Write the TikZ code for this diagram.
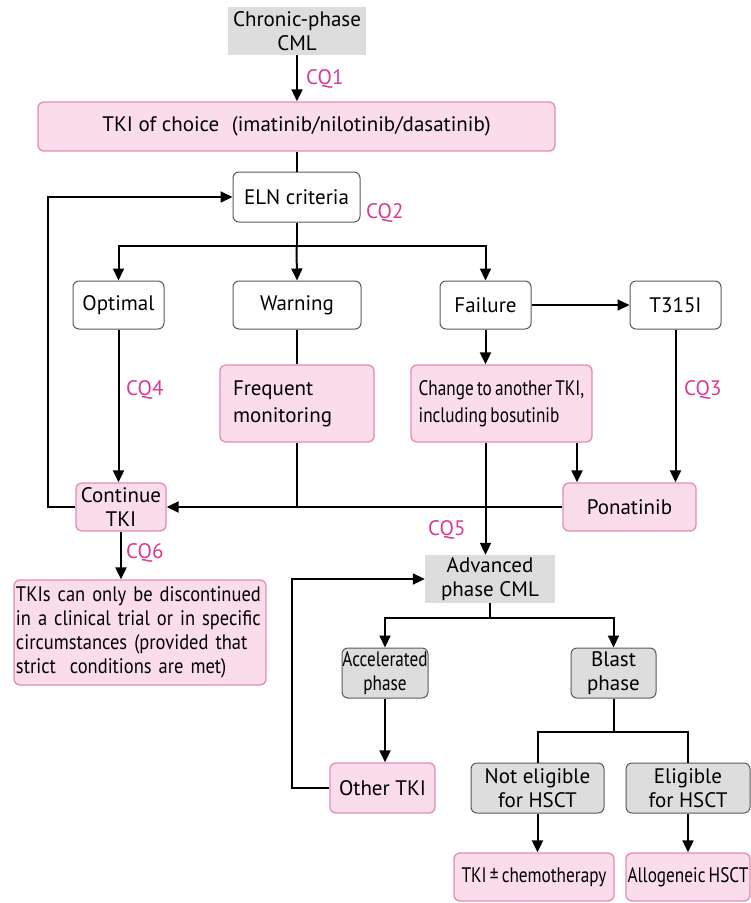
\documentclass[tikz,border=0pt]{standalone}
\usepackage{fontspec}
\setmainfont{PT Sans}
\newfontfamily\condfont[FakeStretch=0.82,WordSpace=0.7]{PT Sans}
\newfontfamily\semicondfont[FakeStretch=0.88,WordSpace=0.8]{PT Sans}
\usetikzlibrary{arrows.meta}
\definecolor{pinkfill}{HTML}{FADCEA}
\definecolor{pinkline}{HTML}{E28CB6}
\definecolor{grayfill}{HTML}{DDDDDD}
\definecolor{cqcol}{HTML}{D93A92}
\tikzset{
  base/.style={inner sep=0pt, align=center, font=\fontsize{21}{24}\selectfont},
  pinkbox/.style={base, draw=pinkline, fill=pinkfill, line width=1.3pt, rounded corners=6pt},
  whitebox/.style={base, draw=black!65, fill=white, line width=1pt, rounded corners=6pt},
  graybox/.style={base, draw=black!65, fill=grayfill, line width=1pt, rounded corners=6pt},
  plaingray/.style={base, fill=grayfill},
  ln/.style={line width=2pt},
  arr/.style={line width=2pt, -{Triangle[length=12pt,width=11pt]}},
  cqlab/.style={text=cqcol, font=\fontsize{21}{24}\selectfont, inner sep=0pt}
}
\begin{document}
\begin{tikzpicture}[x=1pt,y=-1pt]
\useasboundingbox (0,0) rectangle (751,903);
% nodes
\node[plaingray, minimum width=138pt, minimum height=48pt] (chronic) at (297,31) {Chronic-phase\\CML};
\node[pinkbox, minimum width=517pt, minimum height=49pt] (tki) at (296.5,126.5) {TKI of choice\hspace{0.6em}(imatinib/nilotinib/dasatinib)};
\node[whitebox, minimum width=127pt, minimum height=50pt] (eln) at (296.5,197) {ELN criteria};
\node[whitebox, minimum width=91pt, minimum height=48pt] (optimal) at (118.5,305) {Optimal};
\node[whitebox, minimum width=128pt, minimum height=48pt] (warning) at (297,305) {Warning};
\node[whitebox, minimum width=91pt, minimum height=48pt] (failure) at (485.5,305) {Failure};
\node[whitebox, minimum width=91pt, minimum height=48pt] (t315) at (675.5,305) {T315I};
\node[pinkbox, minimum width=154pt, minimum height=77pt, align=left, text width=128pt, font=\fontsize{21}{27}\selectfont] (freq) at (297,403.5) {Frequent\\monitoring};
\node[pinkbox, minimum width=181pt, minimum height=77pt, align=left, font=\condfont\fontsize{21}{27}\selectfont] (change) at (501.5,403.5) {Change to another TKI,\\including bosutinib};
\node[pinkbox, minimum width=90pt, minimum height=48pt, font=\fontsize{21}{24}\selectfont] (cont) at (121,507) {Continue\\TKI};
\node[pinkbox, minimum width=133pt, minimum height=48pt] (pona) at (629.5,507) {Ponatinib};
\node[pinkbox, minimum width=252pt, minimum height=105pt, align=left, text width=248pt, font=\semicondfont\fontsize{21}{24}\selectfont] (tkis) at (140,632.5) {TKIs can only be discontinued\\in a clinical trial or in specific\\circumstances (provided that\\strict\ \ conditions are met)};
\node[plaingray, minimum width=130pt, minimum height=48pt] (adv) at (490,579) {Advanced\\phase CML};
\node[graybox, minimum width=86pt, minimum height=50pt, font=\condfont\fontsize{21}{24}\selectfont] (acc) at (385,673) {Accelerated\\phase};
\node[graybox, minimum width=85pt, minimum height=50pt] (blast) at (613.5,673) {Blast\\phase};
\node[pinkbox, minimum width=105pt, minimum height=50pt] (other) at (382.5,788) {Other TKI};
\node[graybox, minimum width=133pt, minimum height=50pt] (noteli) at (537.5,788) {Not eligible\\for HSCT};
\node[graybox, minimum width=124pt, minimum height=50pt] (eli) at (688,788) {Eligible\\for HSCT};
\node[pinkbox, minimum width=160pt, minimum height=48pt, font=\condfont\fontsize{21}{24}\selectfont] (chemo) at (534,877) {TKI ± chemotherapy};
\node[pinkbox, minimum width=124pt, minimum height=48pt, font=\condfont\fontsize{21}{24}\selectfont] (allo) at (688,877) {Allogeneic HSCT};
% CQ labels
\node[cqlab, anchor=west] (cq1) at (306,79) {CQ1};
\node[cqlab, anchor=west] (cq2) at (366,213) {CQ2};
\node[cqlab, anchor=west] (cq4) at (126,390) {CQ4};
\node[cqlab, anchor=west] (cq3) at (684,390) {CQ3};
\node[cqlab, anchor=west] (cq5) at (428,530) {CQ5};
\node[cqlab, anchor=west] (cq6) at (126,553) {CQ6};
% helper coordinates
\coordinate (b1) at (296.5,246);
\coordinate (loopa) at (48,507);
\coordinate (b2) at (490,618);
\coordinate (b3) at (613.5,732);
\coordinate (loopb) at (292,788);
% connectors
\draw[arr] (chronic.south) -- (chronic.south |- tki.north);
\draw[ln] (tki.south) -- (eln.north);
\draw[ln] (eln.south) -- (b1);
\draw[arr] (b1) -| (optimal.north);
\draw[arr] (b1) -- (warning.north);
\draw[arr] (b1) -| (failure.north);
\draw[arr] (failure.east) -- (t315.west);
\draw[arr] (optimal.south) -- (optimal.south |- cont.north);
\draw[ln] (warning.south) -- (freq.north);
\draw[arr] (failure.south) -- (failure.south |- change.north);
\draw[arr] (t315.south) -- (t315.south |- pona.north);
\draw[arr] ([xshift=75.5pt]change.south) -- ([xshift=75.5pt]change.south |- pona.north);
\draw[arr] (pona.west) -- (cont.east);
\draw[ln] (freq.south) -- (freq.south |- cont.east);
\draw[arr] (cont.west) -- (loopa) |- (eln.west);
\draw[arr] (failure.south |- change.south) -- (failure.south |- adv.north);
\draw[arr] (cont.south) -- (cont.south |- tkis.north);
\draw[arr] (other.west) -- (loopb) |- (adv.west);
\draw[ln] (adv.south) -- (b2);
\draw[arr] (b2) -| (acc.north);
\draw[arr] (b2) -| (blast.north);
\draw[arr] (acc.south) -- (acc.south |- other.north);
\draw[ln] (blast.south) -- (b3);
\draw[ln] (b3) -| (noteli.north);
\draw[ln] (b3) -| (eli.north);
\draw[arr] (noteli.south) -- (noteli.south |- chemo.north);
\draw[arr] (eli.south) -- (eli.south |- allo.north);
\end{tikzpicture}
\end{document}
